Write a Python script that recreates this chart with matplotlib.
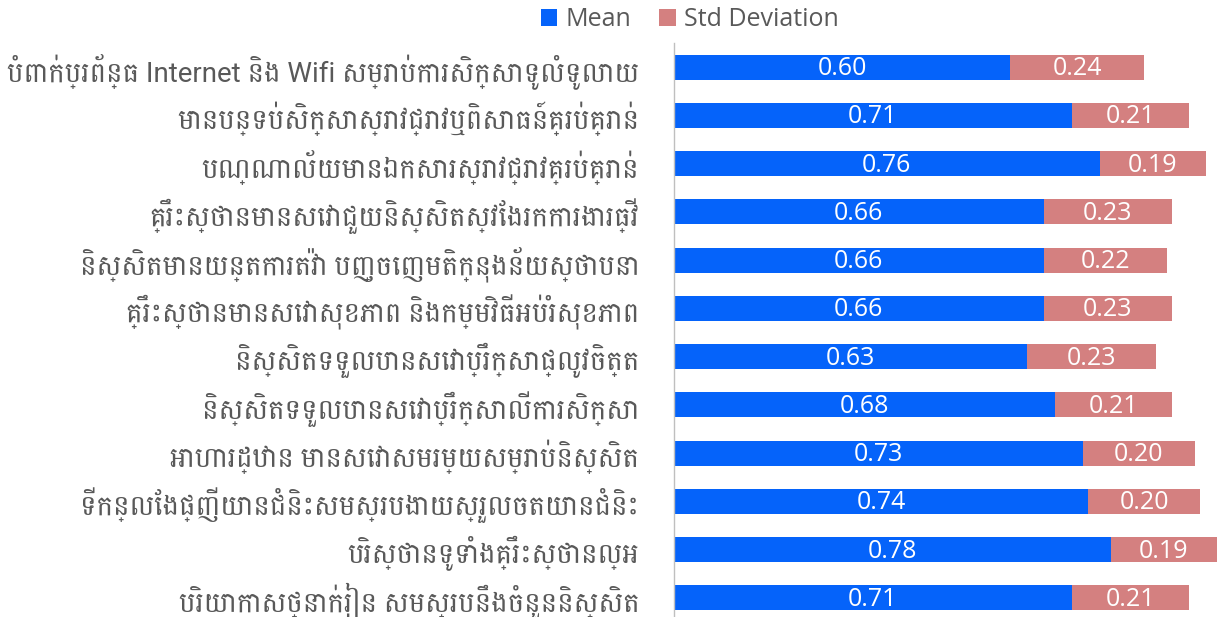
import matplotlib
matplotlib.use("Agg")
import matplotlib.pyplot as plt
import numpy as np

categories = [
    "បំពាក់ប្រព័ន្ធ Internet និង Wifi សម្រាប់ការសិក្សាទូលំទូលាយ",
    "មានបន្ទប់សិក្សាស្រាវជ្រាវឬពិសោធន៍គ្រប់គ្រាន់",
    "បណ្ណាល័យមានឯកសារស្រាវជ្រាវគ្រប់គ្រាន់",
    "គ្រឹះស្ថានមានសេវាជួយនិស្សិតស្វែងរកការងារធ្វើ",
    "និស្សិតមានយន្តការតវ៉ា បញ្ចេញមតិក្នុងន័យស្ថាបនា",
    "គ្រឹះស្ថានមានសេវាសុខភាព និងកម្មវិធីអប់រំសុខភាព",
    "និស្សិតទទួលបានសេវាប្រឹក្សាផ្លូវចិត្ត",
    "និស្សិតទទួលបានសេវាប្រឹក្សាលើការសិក្សា",
    "អាហារដ្ឋាន មានសេវាសមរម្យសម្រាប់និស្សិត",
    "ទីកន្លែងផ្ញើយានជំនិះសមស្របងាយស្រួលចតយានជំនិះ",
    "បរិស្ថានទូទាំងគ្រឹះស្ថានល្អ",
    "បរិយាកាសថ្នាក់រៀន សមស្របនឹងចំនួននិស្សិត",
]
mean_vals = [0.60, 0.71, 0.76, 0.66, 0.66, 0.66, 0.63, 0.68, 0.73, 0.74, 0.78, 0.71]
std_vals = [0.24, 0.21, 0.19, 0.23, 0.22, 0.23, 0.23, 0.21, 0.20, 0.20, 0.19, 0.21]
series_names = ["Mean", "Std Deviation"]

blue = "#0563FA"
pink = "#D48080"
gray = "#595959"

plt.rcParams['font.family'] = ['Open Sans', 'DejaVu Sans']
label_family = ['Roboto', 'Battambang', 'DejaVu Sans']

W, H = 1217, 617
fig = plt.figure(figsize=(W / 100, H / 100), dpi=100)
ax_left, ax_right = 674, 1217
ax_top, ax_bottom = 43, 622
ax = fig.add_axes([ax_left / W, (H - ax_bottom) / H, (ax_right - ax_left) / W, (ax_bottom - ax_top) / H])

y = np.arange(len(categories))
b1 = ax.barh(y, mean_vals, height=0.52, color=blue, label=series_names[0])
b2 = ax.barh(y, std_vals, left=mean_vals, height=0.52, color=pink, label=series_names[1])

for rect, v in zip(b1, mean_vals):
    ax.text(rect.get_x() + rect.get_width() / 2, rect.get_y() + rect.get_height() / 2 + 0.03,
            f"{v:.2f}", ha="center", va="center", color="white", fontsize=18)
for rect, v in zip(b2, std_vals):
    ax.text(rect.get_x() + rect.get_width() / 2, rect.get_y() + rect.get_height() / 2 + 0.03,
            f"{v:.2f}", ha="center", va="center", color="white", fontsize=18)

ax.set_ylim(len(categories) - 0.5, -0.5)
ax.set_xlim(0, 543 / 560)
ax.set_yticks(y)
ax.set_yticklabels(categories, fontsize=20, color=gray, family=label_family)
ax.tick_params(axis="y", length=0, pad=25)
ax.set_xticks([])
for s in ["top", "right", "bottom"]:
    ax.spines[s].set_visible(False)
ax.spines["left"].set_color("#BFBFBF")
ax.spines["left"].set_linewidth(1.0)

fig.legend(handles=[b1, b2], labels=series_names, loc="center", bbox_to_anchor=(690 / W, 1 - 20 / H),
           ncol=2, frameon=False, fontsize=18, labelcolor=gray, handlelength=0.65, handleheight=0.65,
           handletextpad=0.35, columnspacing=1.1)

fig.savefig("out.png", dpi=100)
